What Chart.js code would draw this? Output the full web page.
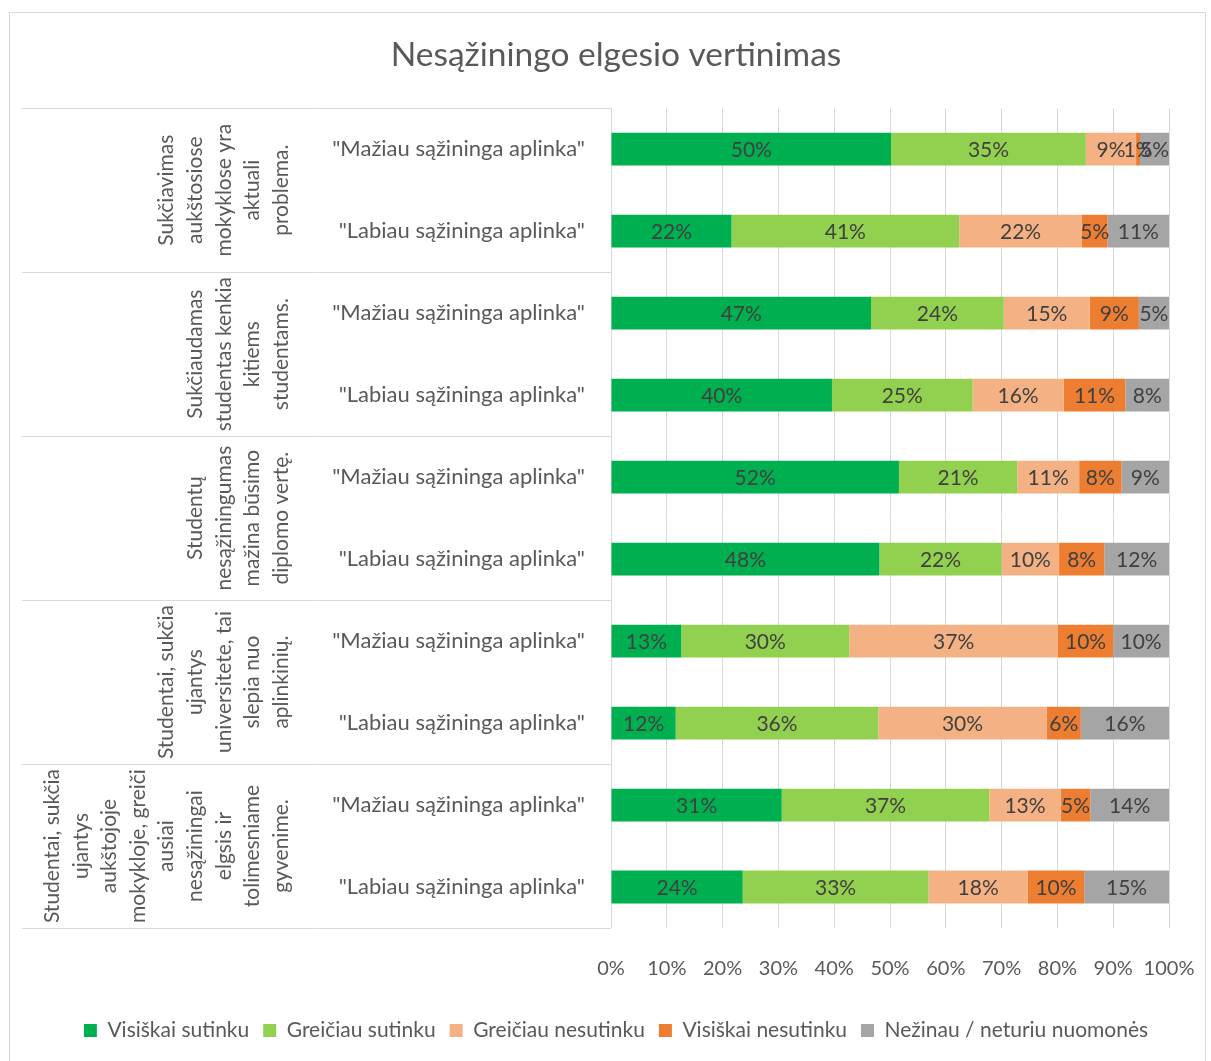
<!DOCTYPE html>
<html>
<head>
<meta charset="utf-8">
<script src="https://cdn.jsdelivr.net/npm/chart.js@4.4.1/dist/chart.umd.min.js"></script>
<style>
  body { margin: 0; background: #fff; }
  #dezute { position: absolute; left: 9px; top: 12px; width: 1195px; height: 1060px; border: 1px solid #d9d9d9; }
  canvas { display: block; }
</style>
</head>
<body>
<div id="dezute"><canvas id="grafikas" width="1195" height="1048"></canvas></div>
<script>
const kategorijos = [
  '"Mažiau sąžininga aplinka"', '"Labiau sąžininga aplinka"',
  '"Mažiau sąžininga aplinka"', '"Labiau sąžininga aplinka"',
  '"Mažiau sąžininga aplinka"', '"Labiau sąžininga aplinka"',
  '"Mažiau sąžininga aplinka"', '"Labiau sąžininga aplinka"',
  '"Mažiau sąžininga aplinka"', '"Labiau sąžininga aplinka"'
];
const grupes = [
  ['Sukčiavimas', 'aukštosiose', 'mokyklose yra', 'aktuali', 'problema.'],
  ['Sukčiaudamas', 'studentas kenkia', 'kitiems', 'studentams.'],
  ['Studentų', 'nesąžiningumas', 'mažina būsimo', 'diplomo vertę.'],
  ['Studentai, sukčia', 'ujantys', 'universitete, tai', 'slepia nuo', 'aplinkinių.'],
  ['Studentai, sukčia', 'ujantys', 'aukštojoje', 'mokykloje, greiči', 'ausiai', 'nesąžiningai', 'elgsis ir', 'tolimesniame', 'gyvenime.']
];
const visiskaiSutinku   = [50.2, 21.6, 46.6, 39.6, 51.6, 48.1, 12.6, 11.6, 30.6, 23.6];
const greiciauSutinku   = [34.9, 40.8, 23.8, 25.2, 21.2, 21.9, 30.1, 36.3, 37.2, 33.3];
const greiciauNesutinku = [9.0, 22.0, 15.4, 16.3, 11.1, 10.3, 37.4, 30.2, 12.8, 17.8];
const visiskaiNesutinku = [0.7, 4.6, 8.8, 11.1, 7.6, 8.1, 9.9, 6.1, 5.3, 10.1];
const nezinau           = [5.2, 11.0, 5.4, 7.8, 8.5, 11.6, 10.0, 15.8, 14.1, 15.2];

const SRIFTAS = 'Lato, "Open Sans", sans-serif';
Chart.defaults.font.family = SRIFTAS;
Chart.defaults.color = '#595959';

// procentai ant stulpeliu
const reiksmiuPlugin = {
  id: 'reiksmes',
  afterDatasetsDraw(chart) {
    const ctx = chart.ctx;
    ctx.save();
    ctx.font = '21px ' + SRIFTAS;
    ctx.fillStyle = '#404040';
    ctx.textAlign = 'center';
    ctx.textBaseline = 'middle';
    chart.data.datasets.forEach((ds, i) => {
      chart.getDatasetMeta(i).data.forEach((el, j) => {
        ctx.fillText(Math.round(ds.data[j]) + '%', (el.x + el.base) / 2, el.y + 1);
      });
    });
    ctx.restore();
  }
};

// grupiu pavadinimai ir skiriamosios linijos kaireje
const grupiuPlugin = {
  id: 'grupes',
  afterDraw(chart) {
    const ctx = chart.ctx;
    const y = chart.scales.y;
    ctx.save();
    ctx.strokeStyle = '#d9d9d9';
    ctx.lineWidth = 1;
    for (let k = 0; k <= grupes.length; k++) {
      const py = Math.round(y.getPixelForValue(2 * k - 0.5)) + 0.5;
      ctx.beginPath();
      ctx.moveTo(12, py);
      ctx.lineTo(chart.chartArea.left, py);
      ctx.stroke();
    }
    ctx.font = '21px ' + SRIFTAS;
    ctx.fillStyle = '#595959';
    ctx.textAlign = 'center';
    ctx.textBaseline = 'middle';
    grupes.forEach((eil, g) => {
      const yc = (y.getPixelForValue(2 * g) + y.getPixelForValue(2 * g + 1)) / 2;
      const n = eil.length;
      eil.forEach((t, i) => {
        ctx.save();
        ctx.translate(271 - (n - 1 - i) * 28.6, yc);
        ctx.rotate(-Math.PI / 2);
        ctx.fillText(t, 0, 0);
        ctx.restore();
      });
    });
    ctx.restore();
  }
};

const grafikas = new Chart(document.querySelector('#grafikas'), {
  type: 'bar',
  data: {
    labels: kategorijos,
    datasets: [
      { label: 'Visiškai sutinku', data: visiskaiSutinku, backgroundColor: '#00B050' },
      { label: 'Greičiau sutinku', data: greiciauSutinku, backgroundColor: '#92D050' },
      { label: 'Greičiau nesutinku', data: greiciauNesutinku, backgroundColor: '#F4B183' },
      { label: 'Visiškai nesutinku', data: visiskaiNesutinku, backgroundColor: '#ED7D31' },
      { label: 'Nežinau / neturiu nuomonės', data: nezinau, backgroundColor: '#A5A5A5' }
    ]
  },
  options: {
    indexAxis: 'y',
    responsive: false,
    animation: false,
    categoryPercentage: 1,
    barPercentage: 0.4,
    layout: { padding: { left: 53, right: 36, top: 0, bottom: 10 } },
    plugins: {
      title: {
        display: true,
        text: 'Nesąžiningo elgesio vertinimas',
        color: '#595959',
        font: { size: 33.5, weight: 'normal' },
        padding: { top: 22, bottom: 33 }
      },
      legend: {
        position: 'bottom',
        labels: { boxWidth: 13, boxHeight: 13, padding: 14, font: { size: 21 }, color: '#595959' }
      },
      tooltip: { enabled: false }
    },
    scales: {
      x: {
        stacked: true,
        min: 0,
        max: 100,
        ticks: { stepSize: 10, padding: 29, maxRotation: 0, minRotation: 0, autoSkip: false, font: { size: 20 }, color: '#595959', callback: v => v + '%' },
        grid: { color: '#d9d9d9', drawTicks: false },
        border: { display: false },
        afterFit: ax => { ax.height = 78; ax.paddingLeft = 0; ax.paddingRight = 0; }
      },
      y: {
        stacked: true,
        ticks: { padding: 26, font: { size: 22 }, color: '#595959' },
        grid: { display: false, drawTicks: false },
        border: { display: false },
        afterFit: ax => { ax.width = 548; }
      }
    }
  },
  plugins: [reiksmiuPlugin, grupiuPlugin]
});
</script>
</body>
</html>
